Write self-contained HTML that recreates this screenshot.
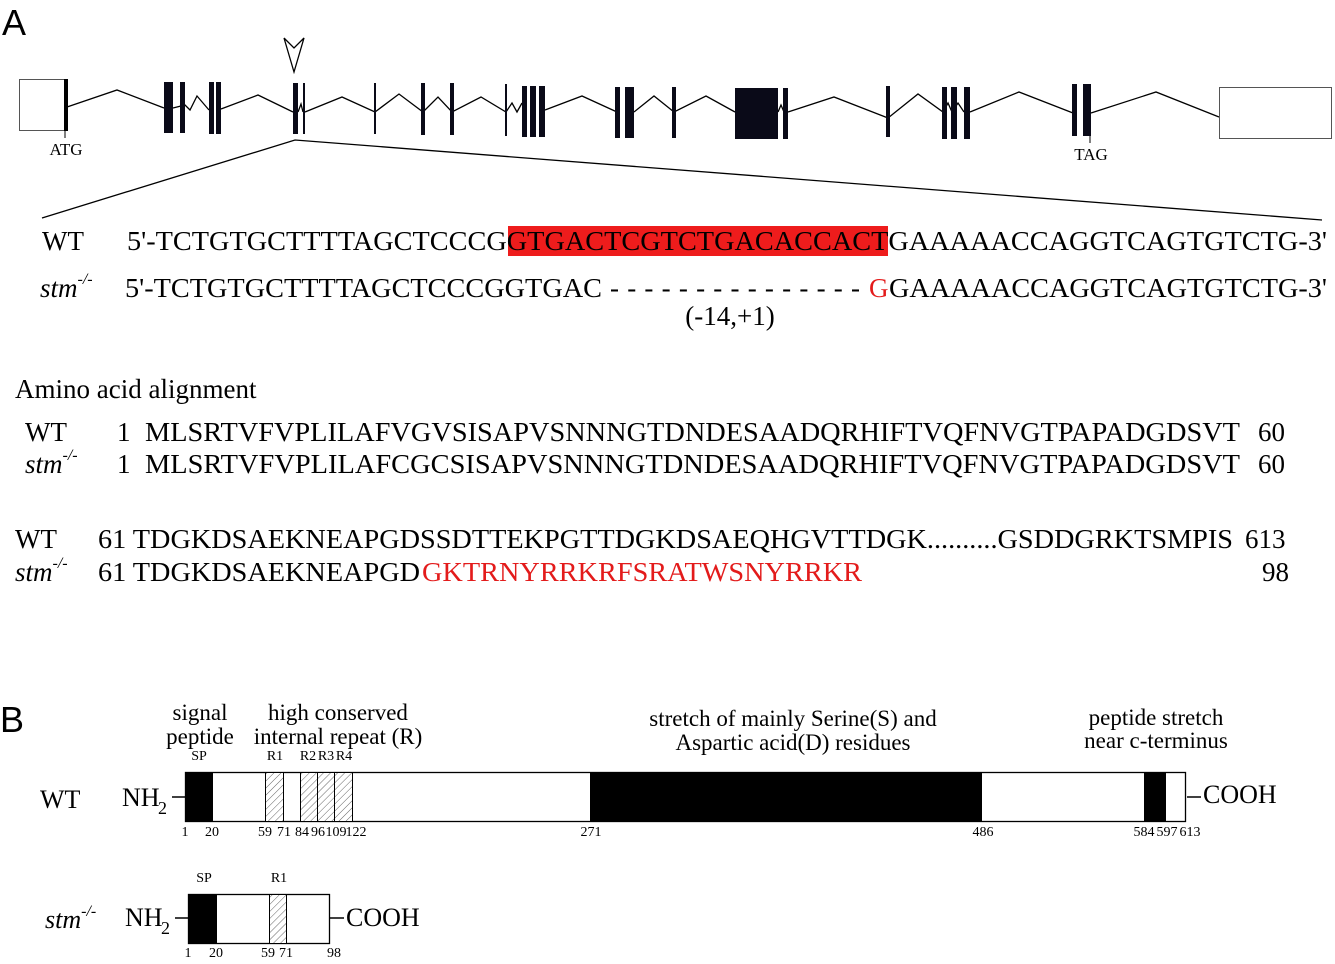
<!DOCTYPE html>
<html><head><meta charset="utf-8"><style>
html,body{margin:0;padding:0;background:#fff;}
svg{display:block;}
text{font-family:"Liberation Serif",serif;fill:#000;}
.s{font-family:"Liberation Sans",sans-serif;}
</style></head><body>
<svg width="1335" height="964" viewBox="0 0 1335 964" xmlns="http://www.w3.org/2000/svg">
<defs>
<pattern id="h" width="5" height="5" patternUnits="userSpaceOnUse" patternTransform="rotate(45)">
<rect width="5" height="5" fill="#fff"/><line x1="0" y1="0" x2="0" y2="5" stroke="#666" stroke-width="1"/>
</pattern>
</defs>
<text class="s" x="2" y="35" font-size="36">A</text>
<text class="s" x="0" y="732" font-size="36">B</text>

<polyline fill="none" stroke="#000" stroke-width="1.3" points="67,107 117,90 164,108"/>
<polyline fill="none" stroke="#000" stroke-width="1.3" points="173,108 185,105 190,110 197,96 209,110"/>
<polyline fill="none" stroke="#000" stroke-width="1.3" points="221,109 258,95 293,112"/>
<polyline fill="none" stroke="#000" stroke-width="1.3" points="298,112 301,104 303,112"/>
<polyline fill="none" stroke="#000" stroke-width="1.3" points="305,112 342,97 375,112 399,94 423,112 438,97 452,112 481,97 506,112 512,103 517,112 522,103"/>
<polyline fill="none" stroke="#000" stroke-width="1.3" points="545,110 582,96 617,112"/>
<polyline fill="none" stroke="#000" stroke-width="1.3" points="634,112 654,96 674,112 706,96 735,112"/>
<polyline fill="none" stroke="#000" stroke-width="1.3" points="778,112 781,105 784,112"/>
<polyline fill="none" stroke="#000" stroke-width="1.3" points="788,112 834,97 888,118 918,94 943,112 948,103 952,112 958,103 964,112"/>
<polyline fill="none" stroke="#000" stroke-width="1.3" points="970,112 1019,92 1073,113"/>
<polyline fill="none" stroke="#000" stroke-width="1.3" points="1091,113 1156,92 1219,117"/>
<rect x="19.5" y="79.5" width="46" height="51" fill="#fff" stroke="#555" stroke-width="1"/>
<rect x="64" y="79" width="4" height="52" fill="#000"/>
<line x1="65" y1="131" x2="65" y2="138" stroke="#000"/>
<text x="66" y="155" font-size="17" text-anchor="middle">ATG</text>
<g fill="#0a0a18">
<rect x="164" y="82" width="9" height="51"/>
<rect x="180" y="82" width="5" height="51"/>
<rect x="209" y="82" width="5" height="52"/>
<rect x="216" y="82" width="5" height="52"/>
<rect x="293" y="83" width="5" height="51"/>
<rect x="303" y="83" width="2" height="51"/>
<rect x="374" y="83" width="2" height="51"/>
<rect x="421" y="83" width="4" height="52"/>
<rect x="450" y="83" width="4" height="52"/>
<rect x="505" y="84" width="2" height="52"/>
<rect x="522" y="86" width="5" height="51"/>
<rect x="530" y="86" width="6" height="51"/>
<rect x="539" y="86" width="6" height="51"/>
<rect x="615" y="87" width="5" height="51"/>
<rect x="625" y="87" width="9" height="51"/>
<rect x="672" y="87" width="4" height="51"/>
<rect x="735" y="88" width="43" height="51"/>
<rect x="783" y="88" width="5" height="51"/>
<rect x="886" y="86" width="4" height="51"/>
<rect x="942" y="87" width="5" height="52"/>
<rect x="951" y="87" width="6" height="52"/>
<rect x="964" y="87" width="6" height="52"/>
<rect x="1072" y="84" width="5" height="52"/>
<rect x="1083" y="84" width="8" height="52"/>
</g>
<line x1="1090" y1="136" x2="1090" y2="143" stroke="#000"/>
<text x="1091" y="160" font-size="17" text-anchor="middle">TAG</text>
<rect x="1219.5" y="87.5" width="112" height="51" fill="#fff" stroke="#555" stroke-width="1"/>
<polyline fill="none" stroke="#000" stroke-width="1.3" points="284,38 294,72 304,38 294,48 284,38"/>
<polyline fill="none" stroke="#000" stroke-width="1.3" points="42,218 295,140 1322,220"/>

<rect x="508" y="226" width="380" height="30" fill="#ee1c1c"/>
<text x="42" y="250" font-size="27">WT</text>
<text x="127" y="250" font-size="27" textLength="1200" lengthAdjust="spacingAndGlyphs">5'-TCTGTGCTTTTAGCTCCCGGTGACTCGTCTGACACCACTGAAAAACCAGGTCAGTGTCTG-3'</text>
<text x="40" y="297" font-size="27" font-style="italic">stm<tspan font-size="16" dy="-13">-/-</tspan></text>
<text x="125" y="297" font-size="27" textLength="477" lengthAdjust="spacingAndGlyphs">5'-TCTGTGCTTTTAGCTCCCGGTGAC</text>
<text x="610" y="297" font-size="27" textLength="250" lengthAdjust="spacing">- - - - - - - - - - - - - - -</text>
<text x="869" y="297" font-size="27" style="fill:#e31b1b">G</text>
<text x="889" y="297" font-size="27" textLength="438" lengthAdjust="spacingAndGlyphs">GAAAAACCAGGTCAGTGTCTG-3'</text>
<text x="730" y="325" font-size="27" text-anchor="middle">(-14,+1)</text>

<text x="15" y="398" font-size="27">Amino acid alignment</text>
<text x="25" y="441" font-size="27">WT</text>
<text x="117" y="441" font-size="27">1</text>
<text x="145" y="441" font-size="27" textLength="1095" lengthAdjust="spacingAndGlyphs">MLSRTVFVPLILAFVGVSISAPVSNNNGTDNDESAADQRHIFTVQFNVGTPAPADGDSVT</text>
<text x="1258" y="441" font-size="27">60</text>
<text x="25" y="473" font-size="27" font-style="italic">stm<tspan font-size="16" dy="-13">-/-</tspan></text>
<text x="117" y="473" font-size="27">1</text>
<text x="145" y="473" font-size="27" textLength="1095" lengthAdjust="spacingAndGlyphs">MLSRTVFVPLILAFCGCSISAPVSNNNGTDNDESAADQRHIFTVQFNVGTPAPADGDSVT</text>
<text x="1258" y="473" font-size="27">60</text>

<text x="15" y="548" font-size="27">WT</text>
<text x="98" y="548" font-size="27" textLength="1135" lengthAdjust="spacingAndGlyphs">61 TDGKDSAEKNEAPGDSSDTTEKPGTTDGKDSAEQHGVTTDGK..........GSDDGRKTSMPIS</text>
<text x="1245" y="548" font-size="27">613</text>
<text x="15" y="581" font-size="27" font-style="italic">stm<tspan font-size="16" dy="-13">-/-</tspan></text>
<text x="98" y="581" font-size="27" textLength="322" lengthAdjust="spacingAndGlyphs">61 TDGKDSAEKNEAPGD</text>
<text x="422" y="581" font-size="27" textLength="440" lengthAdjust="spacingAndGlyphs" style="fill:#e31b1b">GKTRNYRRKRFSRATWSNYRRKR</text>
<text x="1262" y="581" font-size="27">98</text>

<g font-size="23" text-anchor="middle">
<text x="200" y="720">signal</text><text x="200" y="744">peptide</text>
<text x="338" y="720">high conserved</text><text x="338" y="744">internal repeat (R)</text>
<text x="793" y="726">stretch of mainly Serine(S) and</text><text x="793" y="750">Aspartic acid(D) residues</text>
<text x="1156" y="725">peptide stretch</text><text x="1156" y="748">near c-terminus</text>
</g>
<g font-size="14" text-anchor="middle">
<text x="199" y="760">SP</text><text x="275" y="760">R1</text>
<text x="308" y="760">R2</text><text x="326" y="760">R3</text><text x="344" y="760">R4</text>
<text x="185" y="836">1</text><text x="212" y="836">20</text>
<text x="265" y="836">59</text><text x="284" y="836">71</text>
<text x="302" y="836">84</text><text x="318" y="836">96</text><text x="336" y="836">109</text><text x="356" y="836">122</text>
<text x="591" y="836">271</text><text x="983" y="836">486</text>
<text x="1144" y="836">584</text><text x="1167" y="836">597</text><text x="1190" y="836">613</text>
</g>
<text x="40" y="808" font-size="26">WT</text>
<text x="122" y="806" font-size="26">NH</text><text x="158" y="814" font-size="18">2</text>
<line x1="172" y1="797" x2="185" y2="797" stroke="#000" stroke-width="1.5"/>
<rect x="185.5" y="772.5" width="1000" height="49" fill="#fff" stroke="#000" stroke-width="1.3"/>
<rect x="185" y="772" width="28" height="50" fill="#000"/>
<rect x="265.5" y="772.5" width="18" height="49" fill="url(#h)" stroke="#000"/>
<rect x="300.5" y="772.5" width="17" height="49" fill="url(#h)" stroke="#000"/>
<rect x="317.5" y="772.5" width="17" height="49" fill="url(#h)" stroke="#000"/>
<rect x="334.5" y="772.5" width="18" height="49" fill="url(#h)" stroke="#000"/>
<rect x="590" y="772" width="392" height="50" fill="#000"/>
<rect x="1144" y="772" width="22" height="50" fill="#000"/>
<line x1="1187" y1="797" x2="1201" y2="797" stroke="#000" stroke-width="1.5"/>
<text x="1203" y="803" font-size="26">COOH</text>

<g font-size="14" text-anchor="middle">
<text x="204" y="882">SP</text><text x="279" y="882">R1</text>
<text x="188" y="957">1</text><text x="216" y="957">20</text>
<text x="268" y="957">59</text><text x="286" y="957">71</text><text x="334" y="957">98</text>
</g>
<text x="45" y="928" font-size="26" font-style="italic">stm<tspan font-size="16" dy="-12">-/-</tspan></text>
<text x="125" y="926" font-size="26">NH</text><text x="161" y="934" font-size="18">2</text>
<line x1="175" y1="918" x2="188" y2="918" stroke="#000" stroke-width="1.5"/>
<rect x="188.5" y="894.5" width="141" height="49" fill="#fff" stroke="#000" stroke-width="1.3"/>
<rect x="188" y="894" width="29" height="50" fill="#000"/>
<rect x="269.5" y="894.5" width="17" height="49" fill="url(#h)" stroke="#000"/>
<line x1="330" y1="918" x2="344" y2="918" stroke="#000" stroke-width="1.5"/>
<text x="346" y="926" font-size="26">COOH</text>
</svg>
</body></html>
